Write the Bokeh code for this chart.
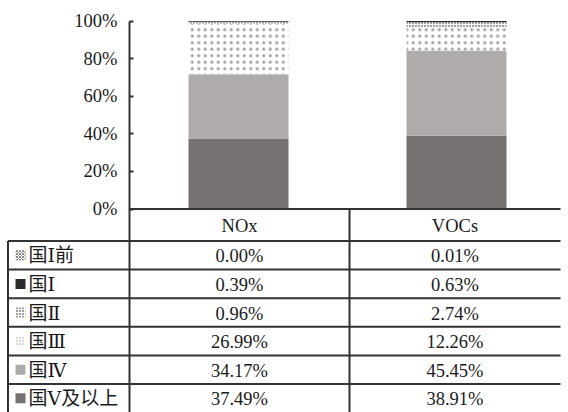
from bokeh.plotting import figure
from bokeh.models import ColumnDataSource, Range1d, FixedTicker, NumeralTickFormatter
from bokeh.core.properties import value
from bokeh.embed import file_html
from bokeh.resources import INLINE

# ---- data ----
pollutants = ["NOx", "VOCs"]
stages = ["国Ⅰ前", "国Ⅰ", "国Ⅱ", "国Ⅲ", "国Ⅳ", "国Ⅴ及以上"]
nox = [0.00, 0.39, 0.96, 26.99, 34.17, 37.49]
vocs = [0.01, 0.63, 2.74, 12.26, 45.45, 38.91]
y_ticks = [0, 0.2, 0.4, 0.6, 0.8, 1.0]

# ---- styles (per stage, same order as stages) ----
fills = ["white", "#2a2a2a", "white", "white", "#afabab", "#767171"]
hatches = ["diagonal_cross", " ", "dot", "dot", " ", " "]
hatch_colors = ["#666666", "#2a2a2a", "#111111", "#a0a0a0", "#afabab", "#767171"]
hatch_scales = [3.0, 6.0, 3.0, 6.5, 6.0, 6.0]
hatch_weights = [0.8, 1.0, 1.5, 1.5, 1.0, 1.0]

SERIF = "Liberation Serif, DejaVu Serif, Noto Sans CJK SC"
FW, FH = 568, 412
AXIS_X = 129.0           # px of the y axis
CAT_W = 218.0            # px per category
Y0, Y1 = 208.5, 20.5     # px of 0% and 100%
UNIT = Y0 - Y1


def X(px):
    return (px - AXIS_X) / CAT_W


def Y(py):
    return (Y0 - py) / UNIT


p = figure(x_range=Range1d(X(0), X(FW)), y_range=Range1d(Y(FH), Y(0)),
           width=FW, height=FH, output_backend="svg", toolbar_location=None,
           x_axis_location=None, min_border=0)
p.outline_line_color = None
p.grid.visible = False

# ---- stacked bars ----
keys = [f"s{i}" for i in range(len(stages))]
data = {"x": [0.5 + i for i in range(len(pollutants))]}
for i, k in enumerate(keys):
    data[k] = [nox[i] / 100.0, vocs[i] / 100.0]
src = ColumnDataSource(data)
order = list(reversed(range(len(stages))))  # bottom to top
p.vbar_stack([keys[i] for i in order], x="x", width=100 / CAT_W, source=src,
             fill_color=[fills[i] for i in order], line_color=None,
             hatch_pattern=[hatches[i] for i in order],
             hatch_color=[hatch_colors[i] for i in order],
             hatch_scale=[hatch_scales[i] for i in order],
             hatch_weight=[hatch_weights[i] for i in order])

# ---- y axis ----
ax = p.yaxis[0]
ax.fixed_location = 0
ax.bounds = (0, 1)
ax.ticker = FixedTicker(ticks=y_ticks)
ax.formatter = NumeralTickFormatter(format="0%")
ax.major_tick_in = 4
ax.major_tick_out = 0
ax.minor_tick_line_color = None
ax.axis_line_width = 2
ax.axis_line_color = "#333333"
ax.major_tick_line_width = 2
ax.major_tick_line_color = "#333333"
ax.major_label_text_font = SERIF
ax.major_label_text_font_size = "18.5px"
ax.major_label_text_color = "#1a1a1a"
ax.major_label_standoff = 12

# ---- data table ----
HEAD_B = 240.5
ROW = 28.6
COL2 = 349.0
RIGHT = 560.0
LEFT_B = 7.5
lc = "#333333"
n = len(stages)
row_lines = [HEAD_B + ROW * i for i in range(n)]
hx0 = [X(AXIS_X)] + [X(LEFT_B)] * n
hx1 = [X(RIGHT)] * (n + 1)
hy = [Y(Y0)] + [Y(v) for v in row_lines]
p.segment(x0=hx0, y0=hy, x1=hx1, y1=hy, line_color=lc, line_width=2)
p.segment(x0=[X(LEFT_B), X(AXIS_X), X(COL2)], y0=[Y(HEAD_B), Y(Y0), Y(Y0)],
          x1=[X(LEFT_B), X(AXIS_X), X(COL2)], y1=[Y(FH), Y(FH), Y(FH)],
          line_color=lc, line_width=2)

c1 = X((AXIS_X + COL2) / 2)
c2 = X((COL2 + RIGHT) / 2)
row_c = [HEAD_B + ROW * i + ROW / 2 for i in range(n)]
tx = [c1, c2]
ty = [Y((Y0 + HEAD_B) / 2 + 1)] * 2
tt = pollutants[:]
for i in range(n):
    tx += [c1, c2]
    ty += [Y(row_c[i] + 1)] * 2
    tt += [f"{nox[i]:.2f}%", f"{vocs[i]:.2f}%"]
p.text(x=tx, y=ty, text=tt, text_font=value(SERIF), text_font_size="18.5px",
       text_align="center", text_baseline="middle", text_color="#1a1a1a")

# legend markers + labels in the first column
lsrc = ColumnDataSource(dict(
    x=[X(20)] * n, y=[Y(v) for v in row_c],
    fill=fills, hatch=hatches, hcol=hatch_colors,
    hscale=[min(s, 3.0) for s in hatch_scales], hw=hatch_weights,
))
p.scatter(x="x", y="y", marker="square", size=10, source=lsrc, fill_color="fill",
          line_color=None, hatch_pattern="hatch", hatch_color="hcol",
          hatch_scale="hscale", hatch_weight="hw")
p.text(x=[X(28)] * n, y=[Y(v + 0.5) for v in row_c], text=stages, text_font=value(SERIF),
       text_font_size="19px", text_align="left", text_baseline="middle", text_color="#1a1a1a")

open("out.html", "w").write(file_html(p, INLINE))
